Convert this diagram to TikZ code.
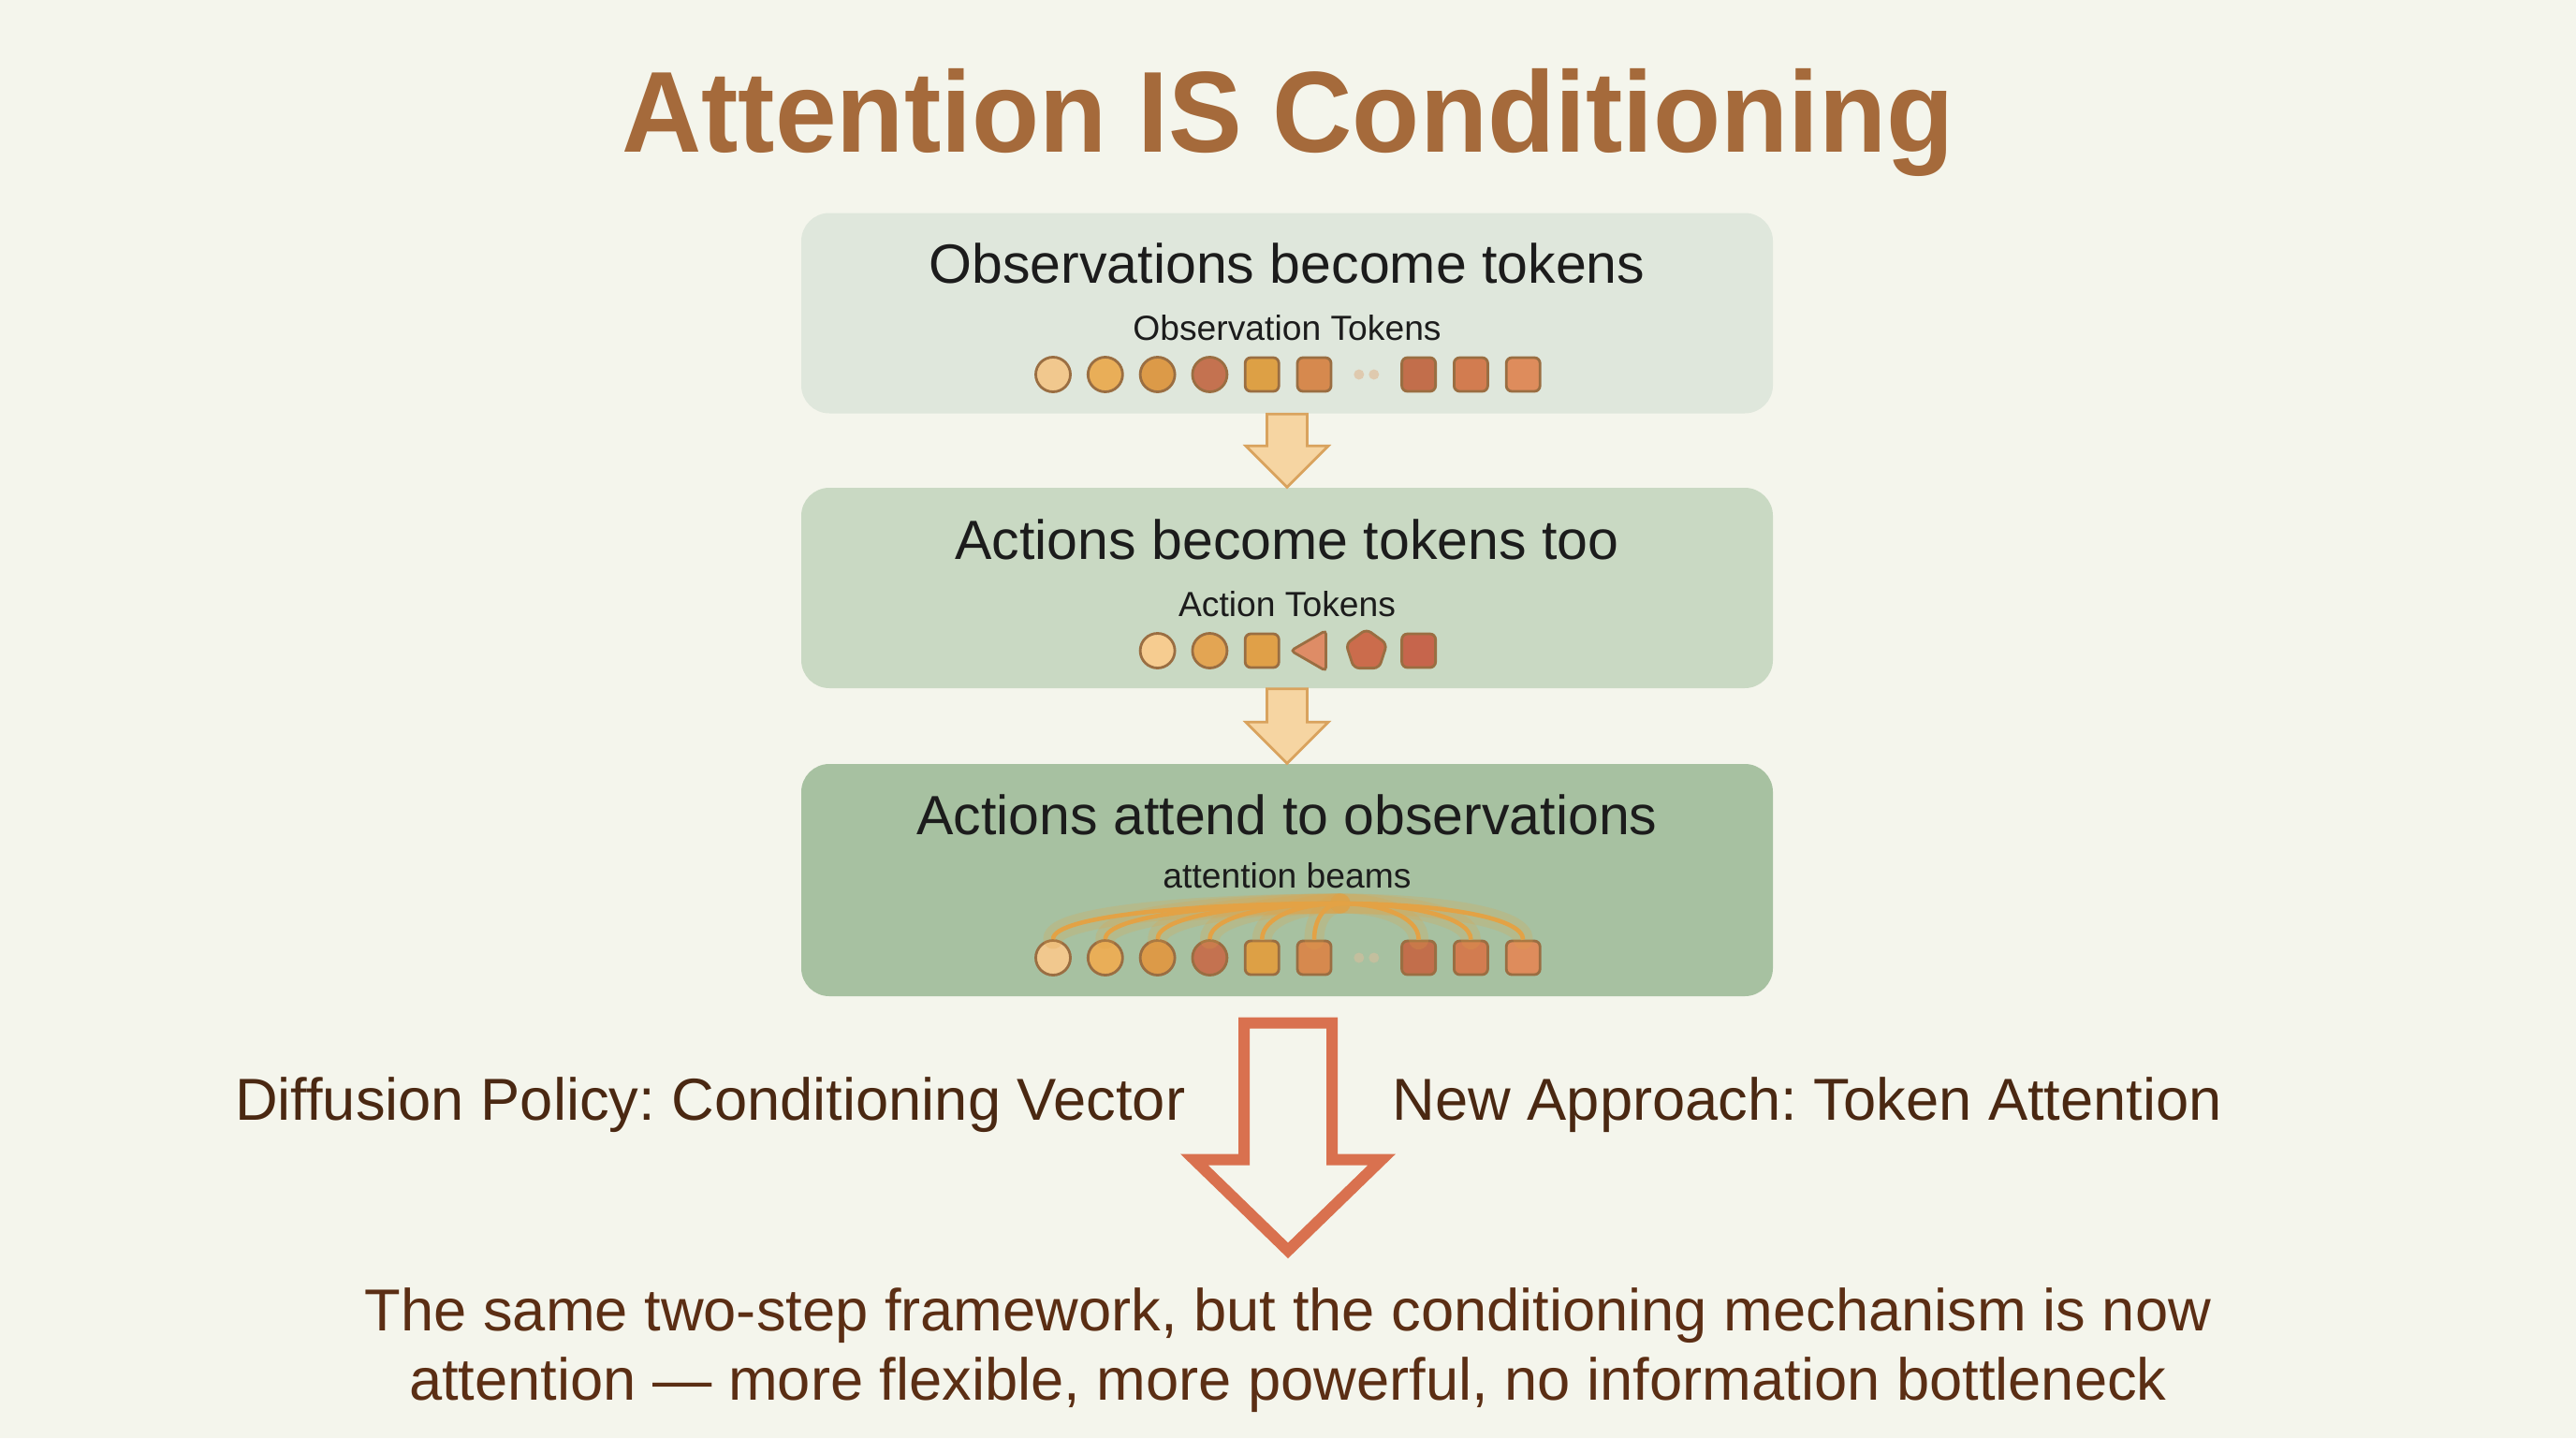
\documentclass[tikz,border=0pt]{standalone}
\usepackage{fontspec}
\setmainfont{Liberation Sans}
\newfontfamily\titlefont[FakeStretch=0.96]{Liberation Sans}
\usepackage{tikz}
\usetikzlibrary{shapes.geometric}
\usetikzlibrary{positioning}
\frenchspacing

\definecolor{bg}{HTML}{F4F5EC}
\definecolor{boxobs}{HTML}{DFE7DC}
\definecolor{boxact}{HTML}{C9D9C3}
\definecolor{boxatt}{HTML}{A7C1A1}
\definecolor{titlecol}{HTML}{A56A3B}
\definecolor{inkdark}{HTML}{1C1C1C}
\definecolor{sideink}{HTML}{4A2812}
\definecolor{conclink}{HTML}{5B2E14}
\definecolor{tokline}{HTML}{9A6E42}
\definecolor{arrowfill}{HTML}{F6D5A2}
\definecolor{arrowline}{HTML}{D9A35E}
\definecolor{bigline}{HTML}{D9714F}
\definecolor{beamcol}{HTML}{E3A245}
\definecolor{dotcol}{HTML}{E0BE9C}
\definecolor{oA}{HTML}{F1C88E}
\definecolor{oB}{HTML}{E9AE58}
\definecolor{oC}{HTML}{DC9A48}
\definecolor{oD}{HTML}{C47250}
\definecolor{oE}{HTML}{DDA045}
\definecolor{oF}{HTML}{D6894E}
\definecolor{oG}{HTML}{C26E4B}
\definecolor{oH}{HTML}{D27C50}
\definecolor{oI}{HTML}{DE8C5C}
\definecolor{aA}{HTML}{F6CC90}
\definecolor{aB}{HTML}{E3A553}
\definecolor{aC}{HTML}{E0A048}
\definecolor{aD}{HTML}{DE8C66}
\definecolor{aE}{HTML}{CB6C4C}
\definecolor{aF}{HTML}{C6654C}

\begin{document}
\begin{tikzpicture}[
    stagebox/.style={rectangle, rounded corners=0.3cm, minimum width=10.38cm, inner sep=0pt},
    boxtitle/.style={font=\fontsize{16.8}{20}\selectfont, text=inkdark, anchor=base, inner sep=0pt},
    boxsub/.style={font=\fontsize{10.6}{13}\selectfont, text=inkdark, anchor=base, inner sep=0pt},
    tokcirc/.style={circle, draw=tokline, line width=0.8pt, minimum size=0.37cm, inner sep=0pt},
    toksq/.style={rectangle, rounded corners=0.06cm, draw=tokline, line width=0.8pt, minimum size=0.36cm, inner sep=0pt},
    toktri/.style={regular polygon, regular polygon sides=3, shape border rotate=90, rounded corners=0.04cm, draw=tokline, line width=0.8pt, minimum size=0.5cm, inner sep=0pt},
    tokpent/.style={regular polygon, regular polygon sides=5, rounded corners=0.06cm, draw=tokline, line width=0.8pt, minimum size=0.46cm, inner sep=0pt},
    smallarrow/.style={fill=arrowfill, draw=arrowline, line width=0.8pt, line join=miter},
    bigarrow/.style={fill=bg, draw=bigline, line width=0.12cm, line join=miter},
    beam/.style={draw=beamcol, line width=1.3pt},
    glow/.style={draw=beamcol, line width=6pt, opacity=0.22, line cap=round},
    sidelabel/.style={font=\fontsize{18}{22}\selectfont, text=sideink, anchor=base, inner sep=0pt},
    concl/.style={font=\fontsize{18}{22}\selectfont, text=conclink, anchor=base, inner sep=0pt}
  ]
  \useasboundingbox (0,0) rectangle (27.52,-15.36);
  \fill[bg] (0,0) rectangle (27.52,-15.36);

  \node[anchor=base, inner sep=0pt, text=titlecol, font=\titlefont\bfseries\fontsize{35}{40}\selectfont] (title) at (13.76,-1.63) {Attention IS Conditioning};

  \node[stagebox, fill=boxobs, minimum height=2.14cm] (obs) at (13.75,-3.345) {};
  \node[stagebox, fill=boxact, minimum height=2.14cm] (act) at (13.75,-6.28) {};
  \node[stagebox, fill=boxatt, minimum height=2.48cm] (att) at (13.75,-9.40) {};

  \node[boxtitle] (obstitle) at (13.75,-3.02) {Observations become tokens};
  \node[boxsub] (obssub) at (13.75,-3.63) {Observation Tokens};
  \node[boxtitle] (acttitle) at (13.75,-5.97) {Actions become tokens too};
  \node[boxsub] (actsub) at (13.75,-6.58) {Action Tokens};
  \node[boxtitle] (atttitle) at (13.75,-8.91) {Actions attend to observations};
  \node[boxsub] (attsub) at (13.75,-9.48) {attention beams};

  \foreach \i/\shp/\col in {0/tokcirc/oA,1/tokcirc/oB,2/tokcirc/oC,3/tokcirc/oD,4/toksq/oE,5/toksq/oF,7/toksq/oG,8/toksq/oH,9/toksq/oI} {
    \node[\shp, fill=\col] (o\i) at ({11.25+0.558*\i},-4.00) {};
    \node[\shp, fill=\col] (a\i) at ({11.25+0.558*\i},-10.23) {};
  }
  \foreach \dx in {-0.08,0.08} {
    \fill[dotcol, opacity=0.7] ({11.25+0.558*6+\dx},-4.00) circle (0.055);
    \fill[dotcol, opacity=0.5] ({11.25+0.558*6+\dx},-10.23) circle (0.055);
  }

  \foreach \i/\shp/\col in {2/tokcirc/aA,3/tokcirc/aB,4/toksq/aC,5/toktri/aD,6/tokpent/aE,7/toksq/aF}
    \node[\shp, fill=\col] (t\i) at ({11.25+0.558*\i},-6.95) {};

  \coordinate (hub) at (14.32,-9.65);
  \foreach \i in {0,1,2,3,4,5,7,8,9}
    \draw[glow] (a\i.north) .. controls +(0,0.25) and +({(11.25+0.558*\i-14.32)*0.5},0) .. (hub);
  \foreach \i in {0,1,2,3,4,5,7,8,9}
    \draw[beam] (a\i.north) .. controls +(0,0.25) and +({(11.25+0.558*\i-14.32)*0.5},0) .. (hub);

  \draw[smallarrow] (act.north) -- ++(0.44,0.44) -- ++(-0.225,0) |- ([xshift=-0.215cm]obs.south) |- ([xshift=-0.44cm,yshift=0.44cm]act.north) -- cycle;
  \draw[smallarrow] (att.north) -- ++(0.44,0.44) -- ++(-0.225,0) |- ([xshift=-0.215cm]act.south) |- ([xshift=-0.44cm,yshift=0.44cm]att.north) -- cycle;

  \coordinate (bigtop) at ([xshift=0.01cm,yshift=-0.28cm]att.south);
  \coordinate (bigtip) at ([xshift=0.01cm,yshift=-2.71cm]att.south);
  \draw[bigarrow] (bigtip) -- ++(1.0,0.97) -- ++(-0.53,0) |- ([xshift=-0.47cm]bigtop) |- ([xshift=-1.0cm,yshift=0.97cm]bigtip) -- cycle;

  \node[sidelabel, anchor=base east] (oldway) at (12.67,-11.96) {Diffusion Policy: Conditioning Vector};
  \node[sidelabel, anchor=base west] (newway) at (14.87,-11.96) {New Approach: Token Attention};

  \node[concl] (concl1) at (13.76,-14.21) {The same two-step framework, but the conditioning mechanism is now};
  \node[concl] (concl2) at (13.76,-14.95) {attention — more flexible, more powerful, no information bottleneck};
\end{tikzpicture}
\end{document}
